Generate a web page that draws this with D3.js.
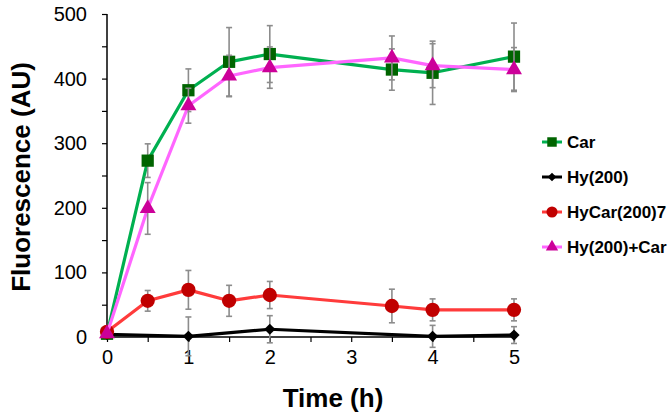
<!DOCTYPE html>
<html><head><meta charset="utf-8">
<script src="https://cdn.jsdelivr.net/npm/d3@7"></script>
<style>body{margin:0;background:#fff}svg{display:block}text{font-family:"Liberation Sans",Arial,sans-serif}</style>
</head><body><svg id="c" width="668" height="419"></svg>
<script>
const carX = [0, 0.5, 1, 1.5, 2, 3.5, 4, 5];
const carY = [5, 273, 382, 426, 438, 414, 409, 434];
const carErr = [0, 26, 33, 53, 44, 32, 49, 52];

const hyX = [0, 1, 2, 4, 5];
const hyY = [4, 1, 12, 1, 3];
const hyErr = [0, 30, 21, 17, 13];

const hyCarX = [0, 0.5, 1, 1.5, 2, 3.5, 4, 5];
const hyCarY = [8, 56, 73, 56, 65, 48, 42, 42];
const hyCarErr = [0, 16, 30, 24, 21, 26, 17, 17];

const mixX = [0, 0.5, 1, 1.5, 2, 3.5, 4, 5];
const mixY = [5, 199, 358, 404, 417, 432, 420, 414];
const mixErr = [0, 40, 27, 32, 32, 34, 34, 34];

const seriesNames = ["Car", "Hy(200)", "HyCar(200)7", "Hy(200)+Car"];
const xTicks = [0, 1, 2, 3, 4, 5];
const yTicks = [0, 100, 200, 300, 400, 500];

const series = [
  {name: seriesNames[0], x: carX, y: carY, e: carErr, line: "#00b050", fill: "#006400", sym: d3.symbolSquare, size: 150},
  {name: seriesNames[1], x: hyX, y: hyY, e: hyErr, line: "#000000", fill: "#000000", sym: d3.symbolDiamond2, size: 80},
  {name: seriesNames[2], x: hyCarX, y: hyCarY, e: hyCarErr, line: "#ff3b3b", fill: "#c00000", sym: d3.symbolCircle, size: 160},
  {name: seriesNames[3], x: mixX, y: mixY, e: mixErr, line: "#ff66ff", fill: "#cc0099", sym: d3.symbolTriangle, size: 110}
];

const svg = d3.select("#c");
const x = d3.scaleLinear().domain([0, 5]).range([107, 514]);
const y = d3.scaleLinear().domain([0, 500]).range([337, 14]);

// axes
const xAxis = d3.axisBottom(x).tickValues(d3.range(0, 5.01, 0.5)).tickSize(5).tickFormat(d => Number.isInteger(d) ? d : "");
const gx = svg.append("g").attr("transform", "translate(0,337)").call(xAxis);
gx.select(".domain").attr("stroke-width", 1.5).attr("d", "M107,0H514");
gx.selectAll(".tick line").attr("stroke-width", 1.2);
gx.selectAll(".tick text").attr("font-size", 20).attr("dy", "0.71em").attr("y", 13).attr("fill", "#000");

const yAxis = d3.axisLeft(y).tickValues(d3.range(0, 501, 50)).tickSize(5).tickFormat(d => d % 100 === 0 ? d : "");
const gy = svg.append("g").attr("transform", "translate(107,0)").call(yAxis);
gy.select(".domain").attr("stroke-width", 1.5).attr("d", "M0,337V14");
gy.selectAll(".tick line").attr("stroke-width", 1.2);
gy.selectAll(".tick text").attr("font-size", 20).attr("x", -20).attr("fill", "#000");

svg.append("text").attr("x", 333).attr("y", 407).attr("text-anchor", "middle")
  .attr("font-size", 26).attr("font-weight", "bold").text("Time (h)");
svg.append("text").attr("transform", "translate(30,177) rotate(-90)").attr("text-anchor", "middle")
  .attr("font-size", 26).attr("font-weight", "bold").text("Fluorescence (AU)");

const line = d3.line().x(d => x(d[0])).y(d => y(d[1]));

series.forEach(s => {
  const pts = s.x.map((v, i) => [v, s.y[i], s.e[i]]);
  const g = svg.append("g");
  g.append("path").datum(pts).attr("d", line).attr("fill", "none")
    .attr("stroke", s.line).attr("stroke-width", 3.2).attr("stroke-linejoin", "round");
  const eb = g.selectAll(".eb").data(pts.filter(p => p[2] > 0)).join("g");
  eb.append("line").attr("x1", d => x(d[0])).attr("x2", d => x(d[0]))
    .attr("y1", d => y(d[1] - d[2])).attr("y2", d => y(d[1] + d[2]))
    .attr("stroke", "#8c8c8c").attr("stroke-width", 1.6);
  [-1, 1].forEach(sg => {
    eb.append("line").attr("x1", d => x(d[0]) - 3).attr("x2", d => x(d[0]) + 3)
      .attr("y1", d => y(d[1] + sg * d[2])).attr("y2", d => y(d[1] + sg * d[2]))
      .attr("stroke", "#8c8c8c").attr("stroke-width", 1.6);
  });
  g.selectAll(".m").data(pts).join("path")
    .attr("transform", d => `translate(${x(d[0])},${y(d[1])})`)
    .attr("d", d3.symbol().type(s.sym).size(s.size)).attr("fill", s.fill);
});

// legend
const lg = svg.append("g");
series.forEach((s, i) => {
  const cy = 142 + i * 35;
  lg.append("line").attr("x1", 542).attr("x2", 562).attr("y1", cy).attr("y2", cy)
    .attr("stroke", s.line).attr("stroke-width", 3);
  lg.append("path").attr("transform", `translate(552,${cy})`)
    .attr("d", d3.symbol().type(s.sym).size(s.size * 0.6)).attr("fill", s.fill);
  lg.append("text").attr("x", 567).attr("y", cy).attr("dy", "0.36em")
    .attr("font-size", 17).attr("font-weight", "bold").text(s.name);
});
</script></body></html>
